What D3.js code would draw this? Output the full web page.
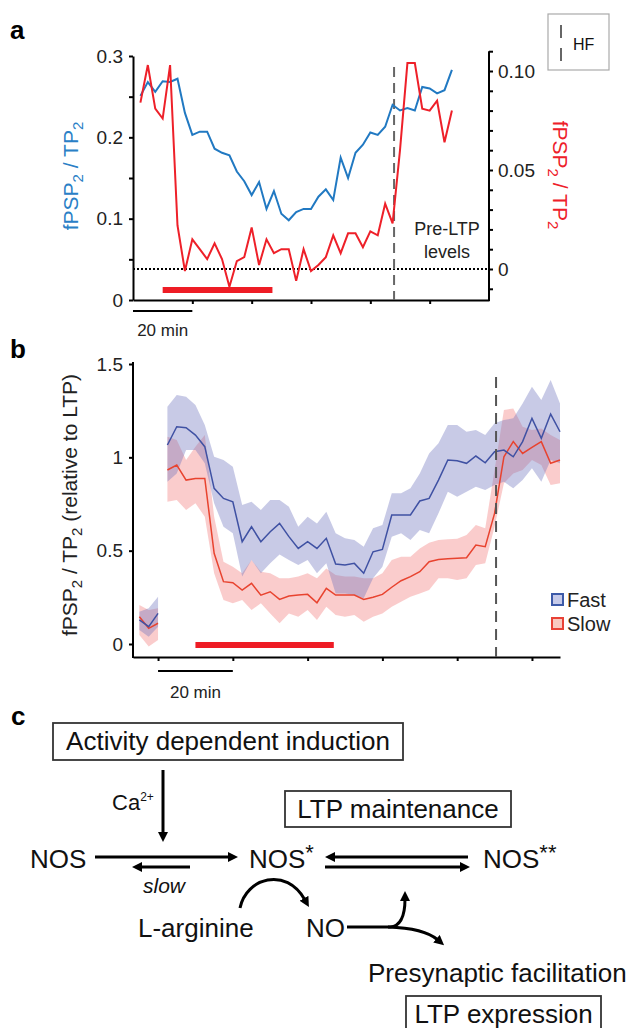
<!DOCTYPE html>
<html>
<head>
<meta charset="utf-8">
<style>
  body { margin: 0; background: #fff; }
  svg { display: block; }
  text { font-family: Arial, "Liberation Sans", Helvetica, sans-serif; }
</style>
</head>
<body>
<div id="chart"></div>
<script src="https://d3js.org/d3.v7.min.js"></script>
<script>
    // ---- data : panel a (single experiment) ----
    const timesA = [2.5,5,7.5,10,12.5,15,17.5,20,22.5,25,27.5,30,32.5,35,37.5,40,42.5,45,47.5,50,52.5,55,57.5,60,62.5,65,67.5,70,72.5,75,77.5,80,82.5,85,87.5,90,92.5,95,97.5,100,102.5,105,107.5];
    const blueA = [0.251,0.268,0.256,0.269,0.268,0.272,0.230,0.203,0.207,0.207,0.186,0.181,0.178,0.158,0.146,0.129,0.145,0.112,0.134,0.106,0.098,0.108,0.112,0.112,0.127,0.136,0.123,0.175,0.150,0.181,0.191,0.206,0.203,0.213,0.240,0.233,0.236,0.233,0.262,0.260,0.254,0.258,0.283];
    const redA = [0.084,0.103,0.081,0.076,0.103,0.022,-0.001,0.015,0.010,0.005,0.013,0.005,-0.009,0.004,0.006,0.021,0.002,0.015,0.008,0.010,0.010,-0.006,0.010,-0.001,0.002,0.006,0.017,0.008,0.018,0.018,0.011,0.019,0.017,0.033,0.023,0.060,0.104,0.104,0.081,0.080,0.085,0.064,0.080];
    const ticksAL = [0,0.05,0.1,0.15,0.2,0.25,0.3];
    const labelsAL = ["0","","0.1","","0.2","","0.3"];
    const ticksAR = [-0.01,0,0.01,0.02,0.03,0.04,0.05,0.06,0.07,0.08,0.09,0.1,0.11];
    const labelsAR = {"0":"0","0.05":"0.05","0.1":"0.10"};
    const ticksAX = [20,40,60,80,100];
    const drugA = [10,47];
    const hfA = 88;

    // ---- data : panel b (mean +/- sem) ----
    const preTimesB = [-5,-2.5,0];
    const preFast = [0.129,0.093,0.164], preFastHi = [0.173,0.191,0.253], preFastLo = [0.075,0.039,0.093];
    const preSlow = [0.146,0.084,0.111], preSlowHi = [0.209,0.182,0.191], preSlowLo = [0.048,-0.014,0.021];
    const timesB = timesA;
    const fastB = [1.066,1.164,1.159,1.119,1.057,0.834,0.780,0.762,0.548,0.628,0.548,0.601,0.646,
                   0.575,0.512,0.548,0.512,0.566,0.428,0.423,0.432,0.379,0.494,0.507,0.691,0.691,0.691,0.766,
                   0.780,0.878,0.986,0.982,0.968,1.007,0.971,1.030,1.039,1.003,1.084,1.209,1.102,1.232,1.137];
    const fastHi = [1.271,1.334,1.325,1.28,1.173,1.003,0.986,0.950,0.745,0.762,0.718,0.771,0.771,
                    0.735,0.628,0.682,0.646,0.709,0.593,0.566,0.557,0.521,0.620,0.637,0.807,0.807,0.834,0.914,
                    1.021,1.075,1.173,1.173,1.137,1.146,1.119,1.182,1.2,1.209,1.289,1.378,1.307,1.414,1.289];
    const fastLo = [0.869,0.914,1.039,1.039,0.968,0.754,0.628,0.593,0.361,0.450,0.379,0.432,0.48,
                    0.45,0.423,0.45,0.379,0.432,0.271,0.271,0.262,0.245,0.352,0.414,0.575,0.593,0.557,0.611,
                    0.593,0.700,0.816,0.789,0.816,0.843,0.825,0.852,0.869,0.834,0.878,0.941,0.869,0.986,0.968];
    const slowB = [0.932,0.959,0.878,0.887,0.887,0.486,0.334,0.328,0.289,0.325,0.262,0.280,0.239,
                   0.257,0.262,0.266,0.221,0.298,0.262,0.262,0.262,0.239,0.25,0.266,0.304,0.339,0.361,0.387,
                   0.441,0.453,0.457,0.459,0.462,0.530,0.521,0.70,1.003,1.084,1.021,1.053,1.084,0.968,0.986];
    const slowHi = [1.11,1.093,0.986,1.057,1.119,0.682,0.441,0.414,0.379,0.45,0.387,0.379,0.352,
                    0.352,0.361,0.379,0.352,0.405,0.37,0.361,0.361,0.352,0.352,0.379,0.45,0.468,0.468,0.512,
                    0.543,0.557,0.561,0.564,0.584,0.637,0.620,0.932,1.253,1.262,1.164,1.146,1.155,1.119,1.093];
    const slowLo = [0.762,0.771,0.718,0.754,0.682,0.379,0.236,0.218,0.236,0.182,0.218,0.164,0.111,
                    0.164,0.146,0.182,0.129,0.2,0.155,0.146,0.155,0.119,0.146,0.164,0.2,0.227,0.253,0.271,
                    0.289,0.352,0.352,0.343,0.352,0.423,0.432,0.628,0.861,0.914,0.932,0.986,0.959,0.852,0.861];
    const ticksBY = [0,0.5,1,1.5];
    const labelsBY = ["0","0.5","1","1.5"];
    const ticksBX = [0,20,40,60,80,100];
    const drugB = [10,47];
    const hfB = 90.4;
    const legendB = ["Fast","Slow"];

    const svg = d3.select("#chart")
        .append("svg")
        .attr("width", 634)
        .attr("height", 1028);

    const defs = svg.append("defs");
    defs.append("marker")
        .attr("id", "head")
        .attr("viewBox", "0 -5 10 10")
        .attr("refX", 2)
        .attr("refY", 0)
        .attr("markerUnits", "userSpaceOnUse")
        .attr("markerWidth", 10)
        .attr("markerHeight", 10)
        .attr("orient", "auto")
        .append("path")
        .attr("d", "M0,-5L10,0L0,5Z")
        .attr("fill", "#000");

    function styleAxis(g) {
        g.attr("font-size", 19).attr("font-family", "Arial, 'Liberation Sans', sans-serif");
        g.selectAll("path, line").attr("stroke", "#000").attr("stroke-width", 2);
        g.selectAll("text").attr("fill", "#222");
    }

    function fpspLabel(g, x, y, rot, color, extra) {
        const t = g.append("text")
            .attr("transform", `translate(${x},${y}) rotate(${rot})`)
            .attr("text-anchor", "middle")
            .attr("font-size", 21)
            .attr("fill", color);
        t.append("tspan").text("fPSP");
        t.append("tspan").attr("font-size", 15).attr("dy", 5).text("2");
        t.append("tspan").attr("dy", -5).text(" / TP");
        t.append("tspan").attr("font-size", 15).attr("dy", 5).text("2");
        if (extra) t.append("tspan").attr("dy", -5).text(extra);
    }

    // ================= panel a =================
    const gA = svg.append("g");
    const xA = d3.scaleLinear().domain([0, 120]).range([133, 489]);
    const yA = d3.scaleLinear().domain([0, 0.3]).range([300, 56]);
    const yA2 = d3.scaleLinear().domain([0, 0.1]).range([269, 71]);

    gA.append("text").attr("x", 10).attr("y", 39).attr("font-size", 26).attr("font-weight", "bold").text("a");

    gA.append("g").attr("transform", "translate(133,0)")
        .call(d3.axisLeft(yA).tickValues(ticksAL).tickSize(4).tickSizeOuter(0).tickPadding(6)
            .tickFormat((d, i) => labelsAL[i]))
        .call(styleAxis);

    const rAxis = gA.append("g").attr("transform", "translate(489,0)")
        .call(d3.axisRight(yA2).tickValues(ticksAR).tickSize(4).tickSizeOuter(0).tickPadding(5)
            .tickFormat(d => labelsAR[String(+d.toFixed(2))] || ""))
        .call(styleAxis);
    rAxis.select(".domain").remove();
    gA.append("line").attr("x1", 489).attr("x2", 489)
        .attr("y1", yA2(0.11)).attr("y2", 301).attr("stroke", "#000").attr("stroke-width", 2);

    gA.append("g").attr("transform", "translate(0,300)")
        .call(d3.axisBottom(xA).tickValues(ticksAX).tickSize(4).tickSizeOuter(0).tickFormat(""))
        .call(styleAxis);

    // pre-LTP level
    gA.append("line")
        .attr("x1", xA(0)).attr("x2", xA(120))
        .attr("y1", yA2(0)).attr("y2", yA2(0))
        .attr("stroke", "#000").attr("stroke-width", 2).attr("stroke-dasharray", "2,2");

    // HF marker
    gA.append("line")
        .attr("x1", xA(hfA)).attr("x2", xA(hfA)).attr("y1", 67).attr("y2", 300)
        .attr("stroke", "#666").attr("stroke-width", 2).attr("stroke-dasharray", "10,6");

    gA.append("path")
        .datum(timesA.map((t, i) => [t, blueA[i]]))
        .attr("fill", "none").attr("stroke", "#2179c2").attr("stroke-width", 2)
        .attr("d", d3.line().x(d => xA(d[0])).y(d => yA(d[1])));

    gA.append("path")
        .datum(timesA.map((t, i) => [t, redA[i]]))
        .attr("fill", "none").attr("stroke", "#ee2029").attr("stroke-width", 2)
        .attr("d", d3.line().x(d => xA(d[0])).y(d => yA2(d[1])));

    gA.append("rect")
        .attr("x", xA(drugA[0])).attr("width", xA(drugA[1]) - xA(drugA[0]))
        .attr("y", 287).attr("height", 6).attr("fill", "#ee1c25");

    gA.append("text").attr("x", 447).attr("y", 235).attr("text-anchor", "middle").attr("font-size", 18).attr("fill", "#222").text("Pre-LTP");
    gA.append("text").attr("x", 447).attr("y", 258).attr("text-anchor", "middle").attr("font-size", 18).attr("fill", "#222").text("levels");

    fpspLabel(gA, 78, 176, -90, "#2a80c6");
    fpspLabel(gA, 553, 175, 90, "#ee2029");

    // scale bar
    gA.append("line").attr("x1", xA(0)).attr("x2", xA(20)).attr("y1", 311).attr("y2", 311)
        .attr("stroke", "#000").attr("stroke-width", 2);
    gA.append("text").attr("x", (xA(0) + xA(20)) / 2).attr("y", 336).attr("text-anchor", "middle")
        .attr("font-size", 17).attr("fill", "#222").text("20 min");

    // HF legend
    gA.append("rect").attr("x", 548).attr("y", 14).attr("width", 61).attr("height", 56)
        .attr("fill", "#fff").attr("stroke", "#aaa").attr("stroke-width", 1.2);
    gA.append("line").attr("x1", 561).attr("x2", 561).attr("y1", 25).attr("y2", 62)
        .attr("stroke", "#666").attr("stroke-width", 2).attr("stroke-dasharray", "13,10");
    gA.append("text").attr("x", 573).attr("y", 50).attr("font-size", 16).attr("fill", "#111").text("HF");

    // ================= panel b =================
    const gB = svg.append("g");
    const xB = d3.scaleLinear().domain([-6.7, 107.5]).range([133, 560]);
    const yB = d3.scaleLinear().domain([0, 1.5]).range([644, 364]);

    gB.append("text").attr("x", 10).attr("y", 358).attr("font-size", 26).attr("font-weight", "bold").text("b");

    const byAxis = gB.append("g").attr("transform", "translate(133,0)")
        .call(d3.axisLeft(yB).tickValues(ticksBY).tickSize(4).tickSizeOuter(0).tickPadding(6)
            .tickFormat((d, i) => labelsBY[i]))
        .call(styleAxis);
    byAxis.select(".domain").remove();
    gB.append("line").attr("x1", 133).attr("x2", 133).attr("y1", 362).attr("y2", 658)
        .attr("stroke", "#000").attr("stroke-width", 2);

    const bxAxis = gB.append("g").attr("transform", "translate(0,657)")
        .call(d3.axisBottom(xB).tickValues(ticksBX).tickSize(4).tickSizeOuter(0).tickFormat(""))
        .call(styleAxis);

    const area = d3.area().x(d => xB(d.t)).y0(d => yB(d.lo)).y1(d => yB(d.hi));
    const line = d3.line().x(d => xB(d.t)).y(d => yB(d.m));

    const segs = [
        { times: preTimesB, fast: preFast, fHi: preFastHi, fLo: preFastLo, slow: preSlow, sHi: preSlowHi, sLo: preSlowLo },
        { times: timesB, fast: fastB, fHi: fastHi, fLo: fastLo, slow: slowB, sHi: slowHi, sLo: slowLo }
    ];

    segs.forEach(s => {
        const slowPts = s.times.map((t, i) => ({ t: t, m: s.slow[i], hi: s.sHi[i], lo: s.sLo[i] }));
        const fastPts = s.times.map((t, i) => ({ t: t, m: s.fast[i], hi: s.fHi[i], lo: s.fLo[i] }));
        gB.append("path").datum(slowPts).attr("d", area).attr("fill", "rgb(240,110,110)").attr("fill-opacity", 0.35);
        gB.append("path").datum(fastPts).attr("d", area).attr("fill", "rgb(110,115,190)").attr("fill-opacity", 0.38);
        gB.append("path").datum(slowPts).attr("d", line).attr("fill", "none").attr("stroke", "#e8432f").attr("stroke-width", 1.5);
        gB.append("path").datum(fastPts).attr("d", line).attr("fill", "none").attr("stroke", "#3f51a3").attr("stroke-width", 1.5);
    });

    gB.append("line")
        .attr("x1", xB(hfB)).attr("x2", xB(hfB)).attr("y1", 377).attr("y2", 657)
        .attr("stroke", "#555").attr("stroke-width", 2).attr("stroke-dasharray", "11,7");

    gB.append("rect")
        .attr("x", xB(drugB[0])).attr("width", xB(drugB[1]) - xB(drugB[0]))
        .attr("y", 642).attr("height", 6).attr("fill", "#ee1c25");

    fpspLabel(gB, 77, 505, -90, "#222", " (relative to LTP)");

    gB.append("line").attr("x1", xB(0)).attr("x2", xB(20)).attr("y1", 671).attr("y2", 671)
        .attr("stroke", "#000").attr("stroke-width", 2);
    gB.append("text").attr("x", (xB(0) + xB(20)) / 2).attr("y", 698).attr("text-anchor", "middle")
        .attr("font-size", 17).attr("fill", "#222").text("20 min");

    const legFill = ["#c6cae9", "#f9c9c0"], legStroke = ["#3d5aa8", "#e84236"];
    legendB.forEach((name, i) => {
        gB.append("rect").attr("x", 552).attr("y", 594 + i * 24).attr("width", 11).attr("height", 11)
            .attr("fill", legFill[i]).attr("stroke", legStroke[i]).attr("stroke-width", 2);
        gB.append("text").attr("x", 567).attr("y", 607 + i * 24).attr("font-size", 20).attr("fill", "#222").text(name);
    });

    // ================= panel c =================
    const gC = svg.append("g");
    gC.append("text").attr("x", 11).attr("y", 725).attr("font-size", 26).attr("font-weight", "bold").text("c");

    function box(x, y, w, h, label, cy) {
        gC.append("rect").attr("x", x).attr("y", y).attr("width", w).attr("height", h)
            .attr("fill", "none").attr("stroke", "#333").attr("stroke-width", 1.8);
        gC.append("text").attr("x", x + w / 2).attr("y", cy).attr("text-anchor", "middle")
            .attr("font-size", 26).attr("fill", "#111").text(label);
    }
    function arrow(x1, y1, x2, y2) {
        const dx = x2 - x1, dy = y2 - y1, L = Math.hypot(dx, dy);
        gC.append("line").attr("x1", x1).attr("y1", y1)
            .attr("x2", x2 - dx / L * 8).attr("y2", y2 - dy / L * 8)
            .attr("stroke", "#000").attr("stroke-width", 3).attr("marker-end", "url(#head)");
    }
    function label(x, y, txt, opts) {
        const t = gC.append("text").attr("x", x).attr("y", y).attr("font-size", 26).attr("fill", "#111").text(txt);
        if (opts) Object.keys(opts).forEach(k => t.attr(k, opts[k]));
        return t;
    }

    box(53, 723, 350, 37, "Activity dependent induction", 750);
    box(285, 791, 226, 36, "LTP maintenance", 818);
    box(406, 996, 195, 40, "LTP expression", 1023);

    arrow(163, 770, 163, 842);
    const ca = label(112, 810, "Ca", { "font-size": 22 });
    ca.append("tspan").attr("font-size", 12).attr("dy", -9).text("2+");

    label(30, 868, "NOS");
    arrow(95, 857, 238, 857);
    arrow(190, 867, 132, 867);
    label(143, 893, "slow", { "font-size": 21, "font-style": "italic" });

    const n1 = label(249, 868, "NOS");
    n1.append("tspan").attr("font-size", 22).attr("dy", -8).text("*");
    arrow(468, 857, 325, 857);
    arrow(325, 867, 470, 867);
    const n2 = label(483, 868, "NOS");
    n2.append("tspan").attr("font-size", 22).attr("dy", -8).text("**");

    label(138, 937, "L-arginine");
    label(306, 937, "NO");

    gC.append("path").attr("d", "M240,908 C246,878 286,866 305,900")
        .attr("fill", "none").attr("stroke", "#000").attr("stroke-width", 3).attr("marker-end", "url(#head)");
    gC.append("path").attr("d", "M347,927 L390,927 Q405,926 405,899")
        .attr("fill", "none").attr("stroke", "#000").attr("stroke-width", 3).attr("marker-end", "url(#head)");
    gC.append("path").attr("d", "M388,927 Q424,928 438,940")
        .attr("fill", "none").attr("stroke", "#000").attr("stroke-width", 3).attr("marker-end", "url(#head)");

    label(368, 982, "Presynaptic facilitation");
</script>
</body>
</html>
